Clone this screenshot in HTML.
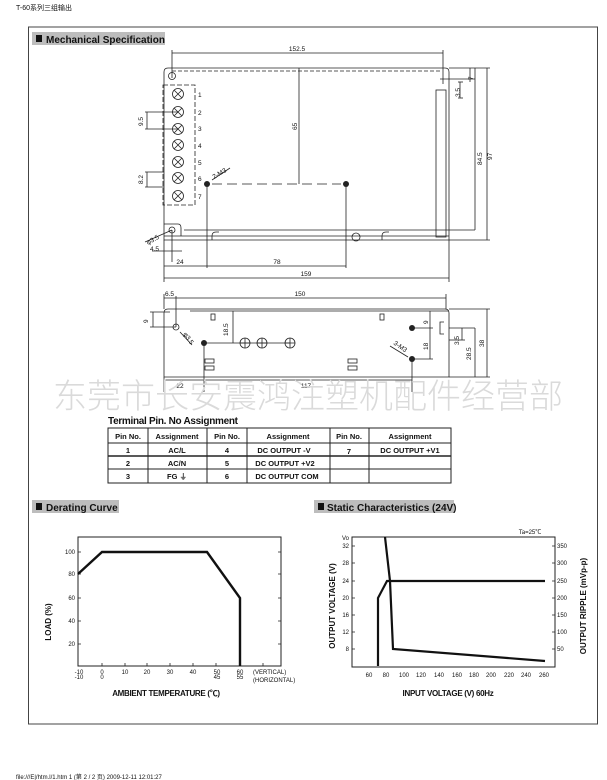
<!DOCTYPE html>
<html><head><meta charset="utf-8"><style>
html,body{margin:0;padding:0;background:#fff;}
svg{display:block;}
text{font-family:"Liberation Sans","Noto Sans CJK SC",sans-serif;fill:#111;}
.b{font-weight:bold;}
.wm{fill:#dadada;font-family:"Noto Sans CJK SC",sans-serif;font-weight:300;}
</style></head><body>
<svg width="607" height="780" viewBox="0 0 607 780" xmlns="http://www.w3.org/2000/svg">
<text x="16" y="10" font-size="7" font-family="Liberation Serif, 'Noto Serif CJK SC', serif">T-60系列三组输出</text>
<rect x="28.5" y="27" width="569" height="697" fill="none" stroke="#444" stroke-width="1"/>
<!-- headers -->
<rect x="32" y="32" width="133" height="13" fill="#bdbdbd"/>
<rect x="36" y="35" width="6" height="7" fill="#111"/>
<text x="46" y="43" font-size="10" class="b">Mechanical Specification</text>
<rect x="32" y="500" width="87" height="13" fill="#bdbdbd"/>
<rect x="36" y="503" width="6" height="7" fill="#111"/>
<text x="46" y="511" font-size="10" class="b">Derating Curve</text>
<rect x="314" y="500" width="140" height="13" fill="#bdbdbd"/>
<rect x="318" y="503" width="6" height="7" fill="#111"/>
<text x="327" y="511" font-size="10" class="b">Static Characteristics (24V)</text>

<!-- TOP VIEW -->
<g stroke="#222" fill="none" stroke-width="0.8">
<path d="M168 68 H445 Q449 68 449 72 V240 H164 V72 Q164 68 168 68"/>
<path d="M172 71 H440" stroke-dasharray="4,2"/>
<line x1="184" y1="230" x2="475" y2="230"/>
<line x1="164" y1="236" x2="449" y2="236"/>
<rect x="436" y="90" width="10" height="147"/>
<path d="M164 224 H178 Q181 224 181 228 V236"/>
<rect x="163" y="85" width="32" height="120" stroke-dasharray="5,2"/>
<line x1="299" y1="68" x2="299" y2="184"/>
<line x1="212" y1="184" x2="341" y2="184" stroke-dasharray="10,5"/>
<line x1="172" y1="50" x2="172" y2="78"/>
<line x1="443" y1="50" x2="443" y2="84"/>
<line x1="172" y1="53" x2="443" y2="53"/>
<line x1="449" y1="68" x2="490" y2="68"/>
<line x1="449" y1="240" x2="490" y2="240"/>
<line x1="487" y1="68" x2="487" y2="240"/>
<line x1="475" y1="68" x2="475" y2="230"/>
<line x1="470" y1="68" x2="470" y2="82"/>
<line x1="440" y1="79" x2="475" y2="79"/>
<line x1="458" y1="82" x2="463" y2="82"/><line x1="458" y1="98" x2="463" y2="98"/>
<line x1="460" y1="82" x2="460" y2="98"/>
<line x1="145" y1="112" x2="178" y2="112"/><line x1="145" y1="129" x2="178" y2="129"/>
<line x1="147" y1="112" x2="147" y2="129"/>
<line x1="145" y1="172" x2="164" y2="172"/><line x1="145" y1="187" x2="164" y2="187"/>
<line x1="147" y1="172" x2="147" y2="187"/>
<line x1="207" y1="184" x2="207" y2="268"/>
<line x1="346" y1="184" x2="346" y2="268"/>
<line x1="164" y1="240" x2="164" y2="282"/>
<line x1="449" y1="240" x2="449" y2="282"/>
<line x1="172" y1="230" x2="172" y2="262"/>
<line x1="152" y1="251" x2="182" y2="251"/>
<line x1="164" y1="266" x2="346" y2="266"/>
<line x1="164" y1="278" x2="449" y2="278"/>
<line x1="145" y1="242" x2="172" y2="230"/>
<line x1="212" y1="180" x2="230" y2="168"/>
<path d="M212 240 v-4 q0-4 4-4 h3"/><path d="M382 240 v-4 q0-4 4-4 h3"/>
<circle cx="356" cy="237" r="4"/>
</g>
<g fill="none" stroke="#222" stroke-width="0.8">
<circle cx="178" cy="94" r="5.5"/><circle cx="178" cy="112" r="5.5"/><circle cx="178" cy="129" r="5.5"/>
<circle cx="178" cy="145" r="5.5"/><circle cx="178" cy="162" r="5.5"/><circle cx="178" cy="178" r="5.5"/><circle cx="178" cy="196" r="5.5"/>
<path d="M174 90 l8 8 M182 90 l-8 8 M174 108 l8 8 M182 108 l-8 8 M174 125 l8 8 M182 125 l-8 8 M174 141 l8 8 M182 141 l-8 8 M174 158 l8 8 M182 158 l-8 8 M174 174 l8 8 M182 174 l-8 8 M174 192 l8 8 M182 192 l-8 8"/>
<circle cx="172" cy="76" r="3.5"/><circle cx="172" cy="230" r="3"/>
</g>
<circle cx="207" cy="184" r="3" fill="#222"/><circle cx="346" cy="184" r="3" fill="#222"/>
<g font-size="6.5">
<text x="198" y="97">1</text><text x="198" y="115">2</text><text x="198" y="131">3</text><text x="198" y="148">4</text><text x="198" y="165">5</text><text x="198" y="181">6</text><text x="198" y="199">7</text>
<text x="297" y="51" text-anchor="middle">152.5</text>
<text x="180" y="264" text-anchor="middle">24</text>
<text x="277" y="264" text-anchor="middle">78</text>
<text x="306" y="276" text-anchor="middle">159</text>
<text x="150" y="251">4.5</text>
<text transform="translate(297,130) rotate(-90)">65</text>
<text transform="translate(143,126) rotate(-90)">9.5</text>
<text transform="translate(143,184) rotate(-90)">8.2</text>
<text transform="translate(492,160) rotate(-90)">97</text>
<text transform="translate(482,165) rotate(-90)">84.5</text>
<text transform="translate(460,97) rotate(-90)">3.5</text>
<text transform="translate(473,80) rotate(-90)">7</text>
<text transform="translate(214,179) rotate(-30)">2-M3</text>
<text transform="translate(148,245) rotate(-30)">φ3.5</text>
</g>

<!-- SIDE VIEW -->
<g stroke="#222" fill="none" stroke-width="0.8">
<path d="M168 309 H445 Q449 309 449 313 V377 H164 V313 Q164 309 168 309"/>
<line x1="190" y1="311" x2="449" y2="311"/>
<line x1="164" y1="294" x2="164" y2="309"/><line x1="446" y1="294" x2="446" y2="309"/>
<line x1="164" y1="298" x2="446" y2="298"/>
<line x1="176" y1="296" x2="176" y2="327"/>
<line x1="150" y1="312" x2="170" y2="312"/><line x1="150" y1="327" x2="176" y2="327"/><line x1="153" y1="312" x2="153" y2="327"/>
<line x1="204" y1="343" x2="290" y2="343"/>
<line x1="233" y1="311" x2="233" y2="343"/>
<line x1="204" y1="343" x2="204" y2="392"/>
<line x1="412" y1="328" x2="433" y2="328"/><line x1="412" y1="359" x2="433" y2="359"/>
<line x1="430" y1="311" x2="430" y2="359"/>
<line x1="412" y1="359" x2="412" y2="392"/>
<line x1="164" y1="377" x2="164" y2="392"/>
<line x1="164" y1="380" x2="412" y2="380"/>
<line x1="449" y1="328" x2="475" y2="328"/><line x1="449" y1="340" x2="465" y2="340"/>
<line x1="462" y1="328" x2="462" y2="340"/>
<line x1="449" y1="377" x2="490" y2="377"/><line x1="475" y1="328" x2="475" y2="377"/>
<line x1="449" y1="309" x2="490" y2="309"/><line x1="487" y1="309" x2="487" y2="377"/>
<path d="M444 322 h-4 v12 h4"/>
<line x1="180" y1="332" x2="192" y2="345"/>
<line x1="390" y1="346" x2="408" y2="357"/>
<rect x="211" y="314" width="4" height="6"/><rect x="380" y="314" width="4" height="6"/>
<rect x="205" y="359" width="9" height="4"/><rect x="205" y="366" width="9" height="4"/>
<rect x="348" y="359" width="9" height="4"/><rect x="348" y="366" width="9" height="4"/>
<circle cx="245" cy="343" r="5"/><circle cx="262" cy="343" r="5"/><circle cx="290" cy="343" r="5"/>
<path d="M240 343h10M245 338v10M257 343h10M262 338v10M285 343h10M290 338v10"/>
<circle cx="176" cy="327" r="3"/>
</g>
<circle cx="204" cy="343" r="3" fill="#222"/><circle cx="412" cy="328" r="3" fill="#222"/><circle cx="412" cy="359" r="3" fill="#222"/>
<g font-size="6.5">
<text x="300" y="296" text-anchor="middle">150</text>
<text x="165" y="296">6.5</text>
<text x="180" y="388" text-anchor="middle">22</text>
<text x="306" y="388" text-anchor="middle">117</text>
<text transform="translate(148,323) rotate(-90)">9</text>
<text transform="translate(228,336) rotate(-90)">18.5</text>
<text transform="translate(428,324) rotate(-90)">9</text>
<text transform="translate(428,350) rotate(-90)">18</text>
<text transform="translate(459,345) rotate(-90)">3.5</text>
<text transform="translate(471,360) rotate(-90)">28.5</text>
<text transform="translate(484,347) rotate(-90)">38</text>
<text transform="translate(183,334) rotate(55)">φ3.5</text>
<text transform="translate(393,344) rotate(35)">3-M3</text>
</g>
<text x="53" y="408" font-size="34" class="wm">东莞市长安震鸿注塑机配件经营部</text>

<!-- TABLE -->
<text x="108" y="424" font-size="10" class="b" letter-spacing="-0.3">Terminal Pin. No Assignment</text>
<g stroke="#222" stroke-width="1" fill="none">
<rect x="108" y="428" width="343" height="55"/>
<line x1="108" y1="443" x2="451" y2="443"/>
<line x1="108" y1="456" x2="451" y2="456" stroke-width="1.6"/>
<line x1="108" y1="469" x2="451" y2="469"/>
<line x1="148" y1="428" x2="148" y2="483"/><line x1="207" y1="428" x2="207" y2="483"/>
<line x1="247" y1="428" x2="247" y2="483"/><line x1="330" y1="428" x2="330" y2="483"/>
<line x1="369" y1="428" x2="369" y2="483"/>
</g>
<g font-size="7.5" class="b" text-anchor="middle">
<text x="128" y="439">Pin No.</text><text x="177" y="439">Assignment</text><text x="227" y="439">Pin No.</text><text x="288" y="439">Assignment</text><text x="349" y="439">Pin No.</text><text x="410" y="439">Assignment</text>
<text x="128" y="453">1</text><text x="177" y="453">AC/L</text><text x="227" y="453">4</text><text x="284" y="453">DC OUTPUT -V</text><text x="349" y="454">7</text><text x="410" y="453">DC OUTPUT +V1</text>
<text x="128" y="466">2</text><text x="177" y="466">AC/N</text><text x="227" y="466">5</text><text x="285" y="466">DC OUTPUT +V2</text>
<text x="128" y="479">3</text><text x="177" y="479">FG ⏚</text><text x="227" y="479">6</text><text x="287" y="479">DC OUTPUT COM</text>
</g>

<!-- DERATING -->
<rect x="78" y="537" width="203" height="129" fill="none" stroke="#222" stroke-width="1"/>
<g stroke="#222" stroke-width="0.8">
<path d="M78 552h3M78 574h3M78 598h3M78 621h3M78 644h3M278 552h3M278 574h3M278 598h3M278 621h3M278 644h3"/>
<path d="M102 663v3M125 663v3M147 663v3M170 663v3M193 663v3M216 663v3M240 663v3M263 663v3"/>
</g>
<polyline points="78,574 102,552 207,552 240,598 240,666" fill="none" stroke="#111" stroke-width="2.4"/>
<g font-size="6" text-anchor="end">
<text x="75" y="554">100</text><text x="75" y="576">80</text><text x="75" y="600">60</text><text x="75" y="623">40</text><text x="75" y="646">20</text>
</g>
<g font-size="6" text-anchor="middle">
<text x="79" y="674">-10</text><text x="79" y="679">-10</text>
<text x="102" y="674">0</text><text x="102" y="679">0</text>
<text x="125" y="674">10</text><text x="147" y="674">20</text><text x="170" y="674">30</text><text x="193" y="674">40</text>
<text x="217" y="674">50</text><text x="217" y="679">45</text>
<text x="240" y="674">60</text><text x="240" y="679">55</text>
</g>
<text x="253" y="674" font-size="6">(VERTICAL)</text>
<text x="253" y="682" font-size="6">(HORIZONTAL)</text>
<text x="166" y="696" font-size="8" class="b" text-anchor="middle" letter-spacing="-0.3">AMBIENT TEMPERATURE (℃)</text>
<text transform="translate(51,622) rotate(-90)" font-size="8" class="b" text-anchor="middle">LOAD (%)</text>

<!-- STATIC -->
<rect x="352" y="537" width="203" height="130" fill="none" stroke="#222" stroke-width="1"/>
<g stroke="#222" stroke-width="0.8">
<path d="M352 546h3M352 563h3M352 581h3M352 598h3M352 615h3M352 632h3M352 649h3M552 546h3M552 563h3M552 581h3M552 598h3M552 615h3M552 632h3M552 649h3"/>
</g>
<polyline points="378,666 378,598 387,581 545,581" fill="none" stroke="#111" stroke-width="2.2"/>
<polyline points="385,537 390,581 393,649 545,661" fill="none" stroke="#111" stroke-width="2.2"/>
<g font-size="6" text-anchor="end">
<text x="349" y="540">Vo</text>
<text x="349" y="548">32</text><text x="349" y="565">28</text><text x="349" y="583">24</text><text x="349" y="600">20</text><text x="349" y="617">16</text><text x="349" y="634">12</text><text x="349" y="651">8</text>
</g>
<g font-size="6">
<text x="557" y="548">350</text><text x="557" y="565">300</text><text x="557" y="583">250</text><text x="557" y="600">200</text><text x="557" y="617">150</text><text x="557" y="634">100</text><text x="557" y="651">50</text>
</g>
<text x="530" y="534" font-size="6" text-anchor="middle">Ta=25℃</text>
<g font-size="6" text-anchor="middle">
<text x="369" y="677">60</text><text x="386" y="677">80</text><text x="404" y="677">100</text><text x="421" y="677">120</text><text x="439" y="677">140</text><text x="457" y="677">160</text><text x="474" y="677">180</text><text x="491" y="677">200</text><text x="509" y="677">220</text><text x="526" y="677">240</text><text x="544" y="677">260</text>
</g>
<text x="448" y="696" font-size="8" class="b" text-anchor="middle" letter-spacing="-0.3">INPUT VOLTAGE (V) 60Hz</text>
<text transform="translate(335,606) rotate(-90)" font-size="8" class="b" text-anchor="middle">OUTPUT VOLTAGE (V)</text>
<text transform="translate(586,606) rotate(-90)" font-size="8" class="b" text-anchor="middle">OUTPUT RIPPLE (mVp-p)</text>

<text x="16" y="779" font-size="6" fill="#555">file:///E|/htm.l/1.htm 1 (第 2 / 2 页) 2009-12-11 12:01:27</text>
</svg>
</body></html>
